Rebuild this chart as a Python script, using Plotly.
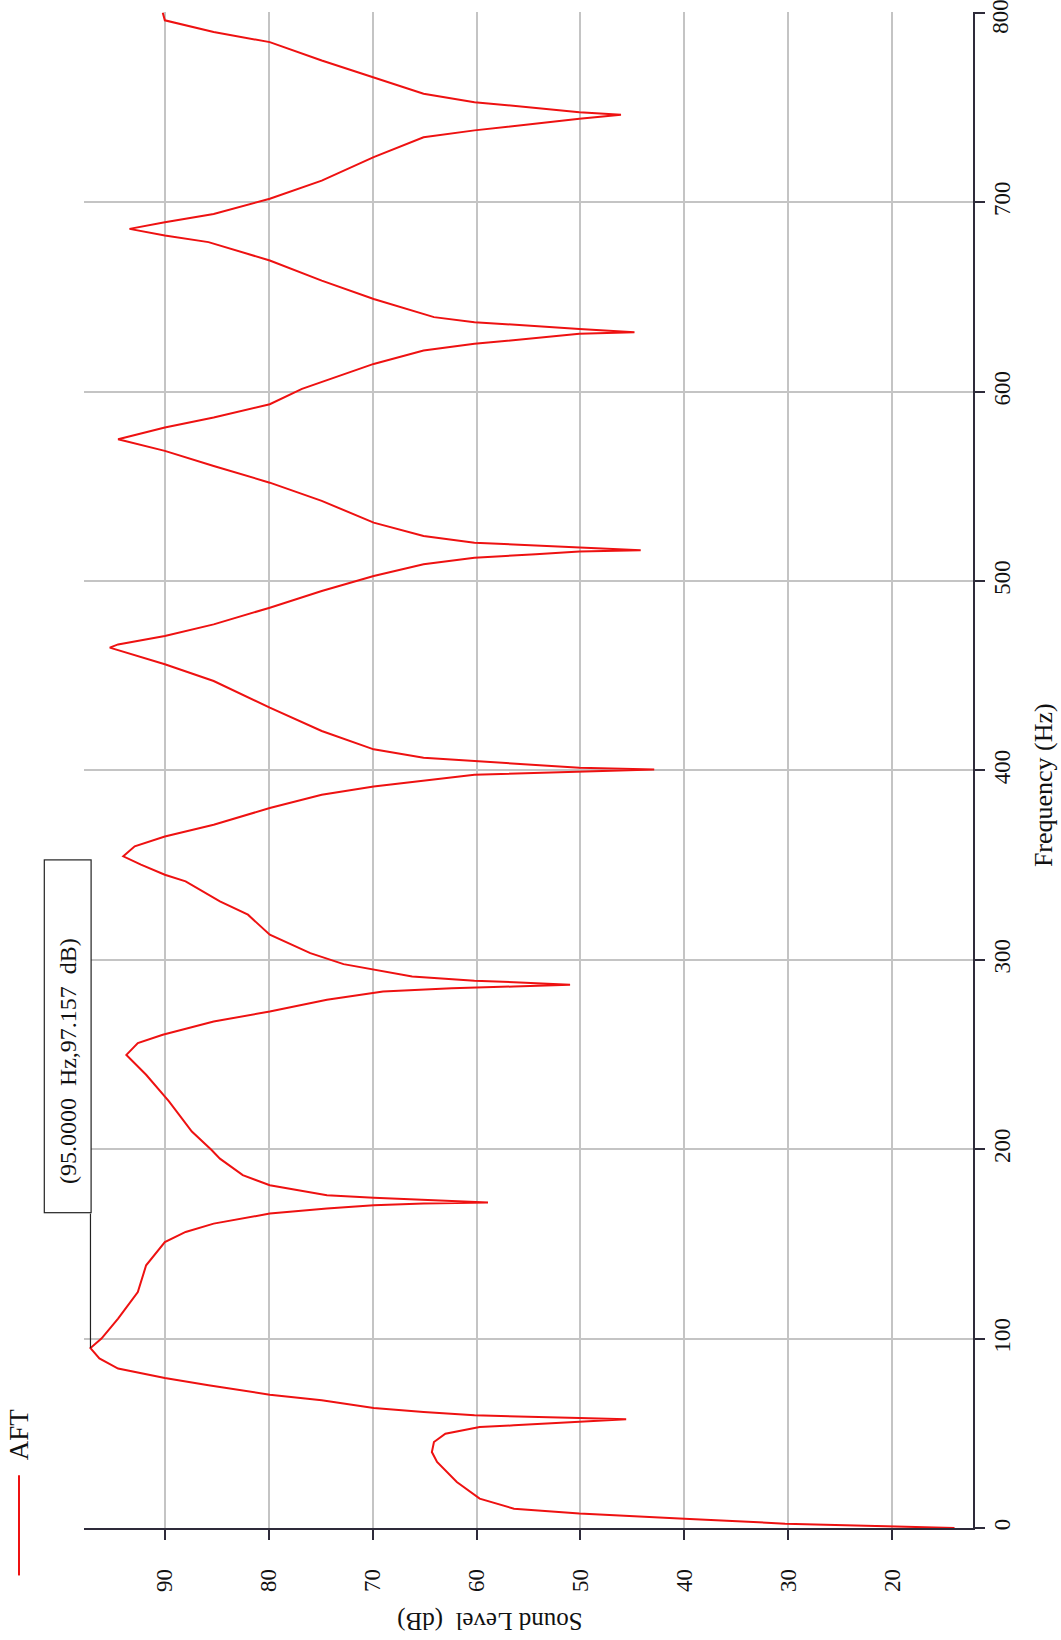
import plotly.graph_objects as go

# Spectrum AFT: frequency (Hz) and sound level (dB)
freq_hz = [0, 0.5, 1.1, 2.3, 4.9, 7.6, 10.2, 15.5, 24.3, 34.9, 40.1, 45.4, 49.8, 53.3, 54.2,
           56.0, 57.4, 58.1, 59.5, 61.3, 63.4, 67.4, 70.4, 75.4, 79.2, 84.2, 89.5, 95.0,
           100.0, 110.6, 124.6, 138.7, 151.0, 156.3, 160.7, 166.0, 168.7, 170.4, 171.3,
           171.8, 173.0, 174.3, 175.7, 181.0, 186.3, 195.0, 199.6, 209.3, 225.2, 239.3,
           249.8, 256.0, 260.4, 267.4, 272.7, 278.9, 283.3, 285.0, 285.9, 286.8, 288.2,
           288.9, 291.2, 297.7, 303.5, 313.2, 323.8, 330.8, 341.4, 344.9, 350.2, 354.6,
           359.9, 365.1, 371.3, 380.1, 387.1, 391.5, 397.7, 399.5, 400.5, 401.4, 404.9,
           406.7, 411.1, 420.8, 433.1, 447.2, 456.0, 464.8, 466.5, 471.0, 477.1, 485.9,
           494.7, 502.6, 508.8, 512.3, 514.1, 515.5, 516.2, 517.6, 520.2, 523.8, 530.8,
           542.3, 551.9, 560.7, 568.7, 574.8, 581.0, 586.3, 593.3, 601.4, 614.6, 621.7,
           625.2, 630.5, 631.3, 633.1, 636.6, 639.3, 648.9, 658.6, 669.2, 678.9, 682.4,
           685.9, 689.4, 693.8, 701.8, 711.4, 723.8, 734.3, 737.9, 744.0, 746.1, 747.5,
           752.8, 757.2, 766.0, 774.8, 784.5, 789.8, 796.0, 800.0]
level_db = [14.0, 17.8, 20.3, 30.3, 40.0, 50.1, 56.4, 59.7, 61.9, 63.8, 64.3, 64.1, 63.0, 59.7, 56.4,
            50.1, 45.6, 50.1, 60.2, 65.1, 69.9, 74.9, 79.9, 85.8, 90.0, 94.5, 96.3, 97.157,
            96.1, 94.5, 92.6, 91.8, 90.0, 88.0, 85.3, 79.9, 74.4, 69.9, 65.1,
            58.9, 65.1, 69.9, 74.4, 79.9, 82.5, 84.7, 85.5, 87.4, 89.6, 91.8,
            93.7, 92.6, 90.2, 85.3, 79.9, 74.4, 69.0, 62.4, 56.4, 51.0, 56.4,
            60.2, 66.2, 72.8, 76.0, 79.9, 82.0, 84.7, 88.0, 90.0, 92.3, 94.0,
            92.9, 90.0, 85.3, 79.9, 74.9, 69.9, 60.2, 50.0, 42.9, 50.1, 60.2,
            65.1, 69.9, 74.9, 79.9, 85.3, 90.0, 95.3, 94.5, 90.0, 85.3, 79.9,
            74.9, 69.9, 65.1, 60.2, 54.3, 50.1, 44.2, 50.1, 60.2, 65.1, 69.9,
            74.9, 79.9, 85.3, 90.0, 94.5, 90.0, 85.3, 79.9, 76.8, 69.9, 65.1,
            60.2, 50.1, 44.8, 50.1, 60.2, 64.1, 69.9, 74.9, 79.9, 85.8, 90.0,
            93.4, 90.0, 85.3, 79.9, 74.9, 69.9, 65.1, 60.2, 50.1, 46.1, 50.1,
            60.2, 65.1, 69.9, 74.9, 79.9, 85.3, 90.0, 90.2]

freq_ticks = [0, 100, 200, 300, 400, 500, 600, 700, 800]
level_ticks = [20, 30, 40, 50, 60, 70, 80, 90]
marker_freq = 95.0
marker_level = 97.157
series_name = "AFT"

FONT = "Liberation Serif, Times New Roman, serif"
AXIS_COLOR = "#2e2b3a"
GRID_COLOR = "#c4c4c4"
RED = "#ee1111"
TXT = "#111111"

# the top tick label sits just below its tick (it is kept inside the picture)
top_tick = freq_ticks[-1]
freq_ticktext = [str(v) if v != top_tick else "" for v in freq_ticks]

fig = go.Figure()
fig.add_trace(go.Scatter(x=level_db, y=freq_hz, mode="lines", name=series_name,
                         line=dict(color=RED, width=2), showlegend=False))

fig.update_layout(
    width=1061, height=1640,
    margin=dict(l=84, r=88, t=12, b=112, autoexpand=False),
    paper_bgcolor="white", plot_bgcolor="white",
    font=dict(family=FONT, size=23, color=TXT),
    xaxis=dict(range=[97.78, 12.22], tickvals=level_ticks, tickangle=-90,
               showgrid=True, gridcolor=GRID_COLOR, gridwidth=2, zeroline=False,
               showline=True, linecolor=AXIS_COLOR, linewidth=1.5, automargin=False,
               ticks="outside", ticklen=10, tickcolor=AXIS_COLOR, tickwidth=1.5,
               ticklabelstandoff=20, tickfont=dict(size=23)),
    yaxis=dict(range=[0, 800.4], tickvals=freq_ticks, ticktext=freq_ticktext,
               tickangle=-90, side="right",
               showgrid=True, gridcolor=GRID_COLOR, gridwidth=2, zeroline=False,
               showline=True, linecolor=AXIS_COLOR, linewidth=1.5, automargin=False,
               ticks="outside", ticklen=10, tickcolor=AXIS_COLOR, tickwidth=1.5,
               ticklabelstandoff=-2, tickfont=dict(size=23)),
)

fig.add_annotation(text=str(top_tick), xref="paper", yref="y", x=1.0315, y=top_tick,
                   yshift=-4, xanchor="center", yanchor="middle", showarrow=False,
                   textangle=-90, font=dict(size=23, family=FONT, color=TXT))

# axis titles (rotated with the chart)
fig.add_annotation(text="Sound Level  (dB)", xref="paper", yref="paper",
                   x=0.457, y=-0.0609, xanchor="center", yanchor="middle",
                   showarrow=False, textangle=180,
                   font=dict(size=25, family=FONT, color=TXT))
fig.add_annotation(text="Frequency (Hz)", xref="paper", yref="paper",
                   x=1.0787, y=0.49, xanchor="center", yanchor="middle",
                   showarrow=False, textangle=-90,
                   font=dict(size=26, family=FONT, color=TXT))

# legend
fig.add_shape(type="line", xref="paper", yref="paper", x0=-0.0731, x1=-0.0731,
              y0=-0.0313, y1=0.0348, line=dict(color=RED, width=2))
fig.add_annotation(text=series_name, xref="paper", yref="paper", x=-0.0731, y=0.0619,
                   xanchor="center", yanchor="middle", showarrow=False, textangle=-90,
                   font=dict(size=27, family=FONT, color=TXT))

# data marker callout
fig.add_shape(type="line", xref="x", yref="y", x0=marker_level, x1=marker_level,
              y0=marker_freq, y1=166, line=dict(color="#222", width=1.2))
fig.add_annotation(text="\u00a0\u00a0\u00a0\u00a0" + f"({marker_freq:.4f}  Hz,{marker_level:.3f}  dB)",
                   xref="paper", yref="y", x=-0.018, y=259.6,
                   xanchor="center", yanchor="middle", showarrow=False,
                   textangle=-90, width=344, height=38, align="left",
                   bordercolor="#222", borderwidth=1.2, borderpad=4, bgcolor="white",
                   font=dict(size=24, family=FONT, color=TXT))

fig.write_html("out.html", config={"displayModeBar": False},
               post_script="document.body.style.margin='0px';")
